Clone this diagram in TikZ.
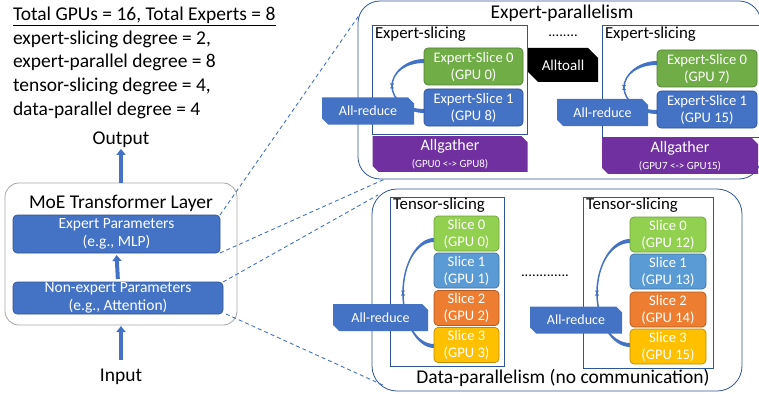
\documentclass[tikz,border=0pt]{standalone}
\usepackage{fontspec}
\setmainfont{Carlito}
\usetikzlibrary{arrows.meta,shapes.misc}

\definecolor{msblue}{HTML}{4472C4}
\definecolor{msblueedge}{HTML}{2F528F}
\definecolor{framec}{HTML}{2F5597}
\definecolor{msgreen}{HTML}{70AD47}
\definecolor{msgreenedge}{HTML}{507E32}
\definecolor{lime}{HTML}{92D050}
\definecolor{limeedge}{HTML}{6FA23A}
\definecolor{sky}{HTML}{5B9BD5}
\definecolor{skyedge}{HTML}{41719C}
\definecolor{msorange}{HTML}{ED7D31}
\definecolor{msorangeedge}{HTML}{AE5A21}
\definecolor{gold}{HTML}{FFC000}
\definecolor{goldedge}{HTML}{BC8C00}
\definecolor{mspurple}{HTML}{7030A0}
\definecolor{layergray}{HTML}{A6A6A6}

\newcommand\szHead{\fontsize{19.5}{23}\selectfont}
\newcommand\szTitle{\fontsize{19.5}{23}\selectfont}
\newcommand\szLabel{\fontsize{16.8}{19}\selectfont}
\newcommand\szLayer{\fontsize{15.5}{18}\selectfont}
\newcommand\szBox{\fontsize{14.6}{17}\selectfont}
\newcommand\szReduce{\fontsize{14}{17}\selectfont}
\newcommand\szGather{\fontsize{16}{17}\selectfont}
\newcommand\szTiny{\fontsize{11}{12}\selectfont}

% tapered loop from a slice's left side round to a lower slice's left side
% #1 right x, #2 top y, #3 bottom y, #4 leftmost x
\newcommand\sliceloop[4]{%
  \fill[msblue]
    (#1,{#2-2}) .. controls ({#1-0.55*(#1-#4)},{#2-2}) and ({#4-0.8},{(#2+#3)/2-0.275*(#3-#2)}) ..
    ({#4-0.8},{(#2+#3)/2}) .. controls ({#4-0.8},{(#2+#3)/2+0.275*(#3-#2)}) and ({#1-0.55*(#1-#4)},{#3+2}) ..
    (#1,{#3+2}) -- (#1,{#3-2}) .. controls ({#1-0.55*(#1-#4)},{#3-2}) and ({#4+0.8},{(#2+#3)/2+0.275*(#3-#2)}) ..
    ({#4+0.8},{(#2+#3)/2}) .. controls ({#4+0.8},{(#2+#3)/2-0.275*(#3-#2)}) and ({#1-0.55*(#1-#4)},{#2+2}) ..
    (#1,{#2+2}) -- cycle;
  \fill[msblue] ({#4-2.2},{(#2+#3)/2-2.5}) -- ({#4+2.2},{(#2+#3)/2-2.5}) -- (#4,{(#2+#3)/2}) -- cycle;
  \fill[msblue] ({#4-2.2},{(#2+#3)/2+2.5}) -- ({#4+2.2},{(#2+#3)/2+2.5}) -- (#4,{(#2+#3)/2}) -- cycle;
}

\begin{document}
\begin{tikzpicture}[x=1pt,y=-1pt,
  every node/.style={inner sep=0pt,outer sep=0pt},
  frame/.style={draw=framec,line width=0.8pt},
  roundframe/.style={frame,rounded corners=22pt},
  slicebox/.style 2 args={fill=#1,draw=#2,line width=0.7pt,rounded corners=4pt,
    text=white,align=center,font=\szBox},
  snip/.style={shape=chamfered rectangle,chamfered rectangle corners={north east,south west},
    chamfered rectangle xsep=3pt,chamfered rectangle ysep=3pt,text=white,align=center},
  reducebox/.style={snip,fill=msblue,font=\szReduce,minimum width=92pt,minimum height=27pt},
  gatherbox/.style={snip,fill=mspurple,font=\szGather,minimum width=155pt,minimum height=30pt},
  layerbox/.style={fill=msblue,draw=msblueedge,line width=0.6pt,rounded corners=4pt,
    text=white,align=center,font=\szLayer},
  bigarrow/.style={draw=msblue,line width=4pt,-{Triangle[length=6pt,width=9pt]}},
  zoomline/.style={draw=msblue,line width=0.9pt,dash pattern=on 4pt off 3pt},
]
\useasboundingbox (0,0) rectangle (759,393);

% ---- configuration summary ----
\node[anchor=base west,font=\szHead] (cfg1) at (13,21) {\underline{Total GPUs = 16, Total Experts = 8}};
\node[anchor=base west,font=\szHead] (cfg2) at (13,44.5) {expert-slicing degree = 2,};
\node[anchor=base west,font=\szHead] (cfg3) at (13,68) {expert-parallel degree = 8};
\node[anchor=base west,font=\szHead] (cfg4) at (13,91.5) {tensor-slicing degree = 4,};
\node[anchor=base west,font=\szHead] (cfg5) at (13,115) {data-parallel degree = 4};

% ---- MoE layer ----
\node[draw=layergray,line width=0.8pt,rounded corners=14pt,minimum width=232pt,minimum height=142pt] (moe) at (121,254) {};
\node[font=\szHead] (moetitle) at (121,203) {MoE Transformer Layer};
\node[layerbox,minimum width=207pt,minimum height=38pt] (ep) at (116.5,234) {Expert Parameters\\(e.g., MLP)};
\node[layerbox,minimum width=210pt,minimum height=32pt] (nep) at (118,298) {Non-expert Parameters\\(e.g., Attention)};
\node[font=\szHead,inner sep=1pt] (output) at (121,140) {Output};
\node[font=\szHead,inner sep=1pt] (input) at (121,377) {Input};
\draw[bigarrow] (moe.north) -- (output.south);
\draw[bigarrow,shorten <=3pt,shorten >=2pt] (nep.north) -- (ep.south);
\draw[bigarrow,shorten <=8pt,shorten >=1pt] (input.north) -- (moe.south);

% ---- expert parallelism ----
\node[roundframe,minimum width=403pt,minimum height=178pt] (epbox) at (559.5,90) {};
\node[font=\szTitle] (eptitle) at (562,13) {Expert-parallelism};

\node[frame,minimum width=155pt,minimum height=109pt] (esA) at (449.5,79.5) {};
\node[anchor=north west,font=\szLabel] (esAlabel) at (375,27) {Expert-slicing};
\node[frame,minimum width=161pt,minimum height=112pt] (esB) at (682.5,81) {};
\node[anchor=north west,font=\szLabel] (esBlabel) at (605,27) {Expert-slicing};

\sliceloop{424}{61}{111}{392}
\sliceloop{657}{63}{112}{624}

\node[slicebox={msgreen}{msgreenedge},minimum width=99pt,minimum height=37pt] (esA0) at (473.5,66.5) {Expert-Slice 0\\(GPU 0)};
\node[slicebox={msblue}{msblueedge},minimum width=99pt,minimum height=37pt] (esA1) at (473.5,107.5) {Expert-Slice 1\\(GPU 8)};
\node[slicebox={msgreen}{msgreenedge},minimum width=100pt,minimum height=37pt] (esB0) at (707,68.5) {Expert-Slice 0\\(GPU 7)};
\node[slicebox={msblue}{msblueedge},minimum width=100pt,minimum height=37pt] (esB1) at (707,109.5) {Expert-Slice 1\\(GPU 15)};

\node[reducebox] (arA) at (368,111) {All-reduce};
\node[reducebox,minimum width=91pt] (arB) at (602.5,112.5) {All-reduce};

\node[snip,fill=black,font=\fontsize{15}{17}\selectfont,minimum width=70pt,minimum height=34pt,
  chamfered rectangle xsep=5pt,chamfered rectangle ysep=5pt] (a2a) at (563,65) {Alltoall};
\node[font=\szBox] (epdots) at (563,36) {........};

\node[gatherbox] (agA) at (450,154) {Allgather\\{\szTiny (GPU0 <-> GPU8)}};
\node[gatherbox,minimum width=156pt,minimum height=32pt] (agB) at (680,156) {Allgather\\{\szTiny (GPU7 <-> GPU15)}};

% ---- data parallelism ----
\node[roundframe,rounded corners=25pt,minimum width=370pt,minimum height=202pt] (dpbox) at (557,290) {};
\node[font=\szTitle] (dptitle) at (563,378) {Data-parallelism (no communication)};

\node[frame,minimum width=114pt,minimum height=169pt] (tsA) at (447,281.5) {};
\node[anchor=north west,font=\szLabel] (tsAlabel) at (393,198) {Tensor-slicing};
\node[frame,minimum width=130pt,minimum height=171pt] (tsB) at (648,282.5) {};
\node[anchor=north west,font=\szLabel] (tsBlabel) at (586,198) {Tensor-slicing};

\sliceloop{434}{240}{346}{403}
\sliceloop{630}{241}{345}{597}

\node[slicebox={lime}{limeedge},minimum width=65pt,minimum height=35pt] (tsA0) at (466.5,233.5) {Slice 0\\(GPU 0)};
\node[slicebox={sky}{skyedge},minimum width=65pt,minimum height=35pt] (tsA1) at (466.5,270.5) {Slice 1\\(GPU 1)};
\node[slicebox={msorange}{msorangeedge},minimum width=65pt,minimum height=35pt] (tsA2) at (466.5,308) {Slice 2\\(GPU 2)};
\node[slicebox={gold}{goldedge},minimum width=65pt,minimum height=35pt] (tsA3) at (466.5,345) {Slice 3\\(GPU 3)};

\node[slicebox={lime}{limeedge},minimum width=76pt,minimum height=35pt] (tsB0) at (668,234.5) {Slice 0\\(GPU 12)};
\node[slicebox={sky}{skyedge},minimum width=76pt,minimum height=35pt] (tsB1) at (668,271.5) {Slice 1\\(GPU 13)};
\node[slicebox={msorange}{msorangeedge},minimum width=76pt,minimum height=35pt] (tsB2) at (668,309.5) {Slice 2\\(GPU 14)};
\node[slicebox={gold}{goldedge},minimum width=76pt,minimum height=35pt] (tsB3) at (668,346.5) {Slice 3\\(GPU 15)};

\node[reducebox,minimum width=95pt] (arC) at (380.5,317.5) {All-reduce};
\node[reducebox] (arD) at (576,320) {All-reduce};
\node[font=\szBox] (dpdots) at (545,276) {.............};

% ---- zoom-in guides ----
\coordinate (epTop) at (360,14);
\coordinate (epBot) at (385,179);
\coordinate (dpTop) at (378,195);
\coordinate (dpBot) at (385,386);
\draw[zoomline] (ep.north east) -- (epTop);
\draw[zoomline] (ep.south east) -- (epBot);
\draw[zoomline] (nep.north east) -- (dpTop);
\draw[zoomline] ([xshift=3pt]nep.south east) -- (dpBot);
\end{tikzpicture}
\end{document}
